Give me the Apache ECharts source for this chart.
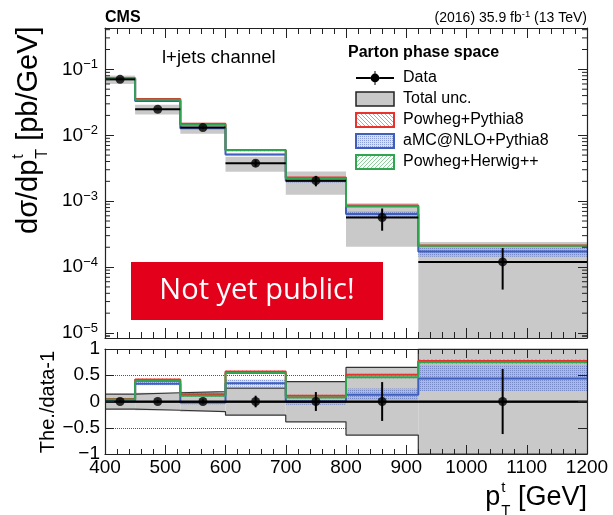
<!DOCTYPE html>
<html><head><meta charset="utf-8">
<script src="https://cdn.jsdelivr.net/npm/echarts@6/dist/echarts.min.js"></script>
<style>html,body{margin:0;padding:0;background:#fff}#c{width:613px;height:515px}</style>
</head><body><div id="c"></div><script>
// ---------------- data ----------------
const binEdges = [400, 450, 525, 600, 700, 800, 920, 1200];
const xTicks = [400, 500, 600, 700, 800, 900, 1000, 1100, 1200];
const mainYDecades = [1e-5, 1e-4, 1e-3, 1e-2, 1e-1];
const ratioTicks = [-1, -0.5, 0, 0.5, 1];
const dataXsec = [0.0705, 0.0248, 0.01306, 0.00377, 0.00205, 0.000566, 0.000120];
const statErr = [0.02, 0.03, 0.04, 0.11, 0.18, 0.37, 0.62];
const totUncUp = [0.14, 0.167, 0.187, 0.253, 0.38, 0.65, 1.0];
const totUncDn = [0.147, 0.167, 0.193, 0.26, 0.387, 0.64, 1.0];
const powhegPythia = [0.0735, 0.0355, 0.0149, 0.0060, 0.00228, 0.00086, 0.000212];
const amcPythia = [0.0712, 0.0332, 0.0128, 0.0051, 0.00205, 0.00064, 0.000173];
const powhegHerwig = [0.0730, 0.0345, 0.0145, 0.0059, 0.00220, 0.00083, 0.000210];
const ratioPowhegPythia = [0.05, 0.42, 0.14, 0.57, 0.11, 0.51, 0.77];
const ratioAmcPythia = [0.01, 0.34, -0.02, 0.35, 0.0, 0.13, 0.44];
const ratioPowhegHerwig = [0.04, 0.39, 0.11, 0.545, 0.075, 0.46, 0.75];
const bandPowhegPythiaLo = [0.03, 0.40, 0.12, 0.55, 0.09, 0.49, 0.74];
const bandPowhegPythiaHi = [0.07, 0.44, 0.16, 0.59, 0.13, 0.53, 0.80];
const bandAmcPythiaLo = [-0.01, 0.31, -0.05, 0.28, -0.06, 0.03, 0.20];
const bandAmcPythiaHi = [0.03, 0.37, 0.01, 0.42, 0.04, 0.25, 0.70];
const bandPowhegHerwigLo = [0.02, 0.37, 0.09, 0.52, 0.055, 0.44, 0.72];
const bandPowhegHerwigHi = [0.06, 0.41, 0.13, 0.57, 0.095, 0.48, 0.80];
const ratioData = [0, 0, 0, 0, 0, 0, 0];

// ---------------- styling / helpers ----------------
const FONT = '"Liberation Sans", Arial, Helvetica, sans-serif';
const RED = '#e8322d', BLUE = '#3f5fbf', GREEN = '#2fa54f', GRAY = '#c9c9c9';
const yMainMin = 8.4e-6, yMainMax = 0.424;
const nBins = dataXsec.length;
const binCenters = binEdges.slice(0, -1).map((e, i) => (e + binEdges[i + 1]) / 2);
const xMin = binEdges[0], xMax = binEdges[nBins];

function makePattern(draw) {
  const c = document.createElement('canvas'); c.width = 8; c.height = 8;
  const g = c.getContext('2d'); draw(g); return { image: c, repeat: 'repeat' };
}
function hatch(color, forward) {
  return makePattern(g => {
    g.strokeStyle = color; g.lineWidth = 1; g.beginPath();
    for (let k = -8; k <= 16; k += 4) {
      if (forward) { g.moveTo(k, 8); g.lineTo(k + 8, 0); } else { g.moveTo(k, 0); g.lineTo(k + 8, 8); }
    }
    g.stroke();
  });
}
const redHatch = hatch('rgba(232,50,45,0.55)', false);
const greenHatch = hatch('rgba(47,165,79,0.55)', true);
const blueDots = makePattern(g => {
  g.fillStyle = 'rgba(120,145,215,0.28)'; g.fillRect(0, 0, 8, 8);
  g.fillStyle = 'rgba(60,90,190,0.5)';
  for (let i = 0; i < 8; i += 2) for (let j = 0; j < 8; j += 2) g.fillRect(i, j, 1, 1);
});

function stepData(vals) {
  const d = vals.map((v, i) => [binEdges[i], v]);
  d.push([binEdges[nBins], vals[nBins - 1]]);
  return d;
}
const clampR = v => Math.max(-1, Math.min(1, v));
const clampM = v => Math.max(yMainMin, Math.min(yMainMax, v));

function rectRender(fill, stroke, lw) {
  return (params, api) => {
    const p0 = api.coord([api.value(0), api.value(3)]);
    const p1 = api.coord([api.value(1), api.value(2)]);
    return { type: 'rect', shape: { x: p0[0], y: p0[1], width: p1[0] - p0[0], height: p1[1] - p0[1] },
      style: { fill: fill, stroke: stroke || null, lineWidth: lw || 0 } };
  };
}
function errRender(params, api) {
  const a = api.coord([api.value(1), api.value(3)]);
  const b = api.coord([api.value(2), api.value(3)]);
  const lo = api.coord([api.value(0), api.value(4)]);
  const hi = api.coord([api.value(0), api.value(5)]);
  const st = { stroke: '#000', lineWidth: 2 };
  return { type: 'group', children: [
    { type: 'line', shape: { x1: a[0], y1: a[1], x2: b[0], y2: b[1] }, style: st },
    { type: 'line', shape: { x1: lo[0], y1: lo[1], x2: hi[0], y2: hi[1] }, style: st }
  ] };
}
const minorVals = [];
mainYDecades.concat([1]).forEach(d => { for (let m = 2; m <= 9; m++) { const v = m * d / 10; if (v > yMainMin && v < yMainMax) minorVals.push(v); } });
for (let m = 9; m >= 2; m--) { const v = m * 1e-6; if (v > yMainMin) minorVals.push(v); }

// ---------------- derived series data ----------------
const mainBand = dataXsec.map((v, i) => [binEdges[i], binEdges[i + 1], clampM(v * (1 - totUncDn[i])), clampM(v * (1 + totUncUp[i]))]);
const ratioBand = dataXsec.map((v, i) => [binEdges[i], binEdges[i + 1], clampR(-totUncDn[i]), clampR(totUncUp[i])]);
const modelBandMain = (lo, hi) => dataXsec.map((v, i) => [binEdges[i], binEdges[i + 1], v * (1 + lo[i]), v * (1 + hi[i])]);
const modelBandRatio = (lo, hi) => lo.map((l, i) => [binEdges[i], binEdges[i + 1], clampR(l), clampR(hi[i])]);
const errMain = dataXsec.map((v, i) => [binCenters[i], binEdges[i], binEdges[i + 1], v, v * (1 - statErr[i]), v * (1 + statErr[i])]);
const errRatio = ratioData.map((v, i) => [binCenters[i], binEdges[i], binEdges[i + 1], v, v - statErr[i], v + statErr[i]]);

// ---------------- axes ----------------
function xAx(grid, pos, labels, major, minor) {
  return { type: 'value', gridIndex: grid, position: pos, min: xTicks[0], max: xTicks[xTicks.length - 1],
    interval: xTicks[1] - xTicks[0], z: 8,
    axisLine: { show: true, onZero: false, lineStyle: { color: '#222', width: 1.2 } },
    axisTick: { show: true, inside: true, length: major, lineStyle: { color: '#222', width: 1 } },
    minorTick: { show: true, splitNumber: 5, length: minor, lineStyle: { color: '#222', width: 1 } },
    splitLine: { show: false },
    axisLabel: { show: labels, fontSize: 19, fontFamily: FONT, color: '#000', margin: 4, formatter: v => String(v) } };
}
const supStyle = { fontSize: 13, fontFamily: FONT, color: '#000', verticalAlign: 'top', lineHeight: 13 };
function yMain(pos, labels) {
  return { type: 'log', logBase: 10, gridIndex: 0, position: pos, min: yMainMin, max: yMainMax, z: 8,
    axisLine: { show: true, onZero: false, lineStyle: { color: '#222', width: 1.2 } },
    axisTick: { show: true, inside: true, length: 9, lineStyle: { color: '#222', width: 1 } },
    splitLine: { show: false },
    axisLabel: { show: labels, margin: 7, showMinLabel: false, showMaxLabel: false,
      formatter: v => {
        const d = mainYDecades.find(t => Math.abs(Math.log10(t) - Math.log10(v)) < 1e-6);
        if (d === undefined) return '';
        return '{b|10}{s|\u2212' + Math.round(-Math.log10(d)) + '}';
      },
      rich: { b: { fontSize: 19, fontFamily: FONT, color: '#000', lineHeight: 23 }, s: supStyle } } };
}
function yRatio(pos, labels) {
  return { type: 'value', gridIndex: 1, position: pos, min: ratioTicks[0], max: ratioTicks[ratioTicks.length - 1],
    interval: ratioTicks[1] - ratioTicks[0], z: 8,
    axisLine: { show: true, onZero: false, lineStyle: { color: '#222', width: 1.2 } },
    axisTick: { show: true, inside: true, length: 9, lineStyle: { color: '#222', width: 1 } },
    splitLine: { show: false },
    axisLabel: { show: labels, margin: 5, fontSize: 19, fontFamily: FONT, color: '#000',
      formatter: v => (v < 0 ? '\u2212' + Math.abs(v) : String(v)) } };
}

// ---------------- series ----------------
const M = { xAxisIndex: 0, yAxisIndex: 0 }, R = { xAxisIndex: 2, yAxisIndex: 2 };
const bandEnc = { x: [0, 1], y: [2, 3] };
function lineSeries(name, vals, color, axes, z, w) {
  return Object.assign({ type: 'line', name: name, data: stepData(vals), step: 'end', symbol: 'none',
    lineStyle: { color: color, width: w || 2 }, itemStyle: { color: color }, z: z, silent: true }, axes);
}
function bandSeries(name, data, fill, axes, z) {
  return Object.assign({ type: 'custom', name: name, data: data, encode: bandEnc, renderItem: rectRender(fill), z: z, silent: true, clip: true }, axes);
}
const series = [
  // main panel
  bandSeries('Total unc.', mainBand, GRAY, M, 2),
  bandSeries('aMC@NLO+Pythia8', modelBandMain(bandAmcPythiaLo, bandAmcPythiaHi), blueDots, M, 3),
  bandSeries('Powheg+Pythia8', modelBandMain(bandPowhegPythiaLo, bandPowhegPythiaHi), redHatch, M, 3),
  bandSeries('Powheg+Herwig++', modelBandMain(bandPowhegHerwigLo, bandPowhegHerwigHi), greenHatch, M, 3),
  lineSeries('Powheg+Pythia8 line', powhegPythia, RED, M, 4),
  lineSeries('aMC@NLO+Pythia8 line', amcPythia, BLUE, M, 4),
  lineSeries('Powheg+Herwig++ line', powhegHerwig, GREEN, M, 4),
  Object.assign({ type: 'custom', name: 'Data', data: errMain, encode: { x: [0, 1, 2], y: [3, 4, 5] }, renderItem: errRender, z: 6, silent: true }, M),
  Object.assign({ type: 'scatter', name: 'Data points', data: binCenters.map((x, i) => [x, dataXsec[i]]), symbol: 'circle', symbolSize: 9, itemStyle: { color: '#000' }, z: 7, silent: true }, M),
  Object.assign({ type: 'custom', name: 'minor ticks', data: minorVals.map(v => [xMin, v]), encode: { x: 0, y: 1 }, z: 9, silent: true,
    renderItem: (params, api) => {
      const l = api.coord([xMin, api.value(1)]), r = api.coord([xMax, api.value(1)]);
      const st = { stroke: '#222', lineWidth: 1 };
      return { type: 'group', children: [
        { type: 'line', shape: { x1: l[0], y1: l[1], x2: l[0] + 5, y2: l[1] }, style: st },
        { type: 'line', shape: { x1: r[0] - 5, y1: r[1], x2: r[0], y2: r[1] }, style: st }] };
    } }, M),
  // ratio panel
  Object.assign({ type: 'line', name: 'ref lines', data: [], z: 1, silent: true,
    markLine: { silent: true, symbol: 'none', z: 1, label: { show: false },
      lineStyle: { type: 'dotted', color: '#555', width: 1 }, data: [{ yAxis: 0.5 }, { yAxis: -0.5 }] } }, R),
  bandSeries('Total unc. ratio', ratioBand, GRAY, R, 2),
  lineSeries('unc up', ratioBand.map(b => b[3]), '#333', R, 3, 1.2),
  lineSeries('unc down', ratioBand.map(b => b[2]), '#333', R, 3, 1.2),
  bandSeries('aMC ratio band', modelBandRatio(bandAmcPythiaLo, bandAmcPythiaHi), blueDots, R, 3),
  bandSeries('PP ratio band', modelBandRatio(bandPowhegPythiaLo, bandPowhegPythiaHi), redHatch, R, 3),
  bandSeries('PH ratio band', modelBandRatio(bandPowhegHerwigLo, bandPowhegHerwigHi), greenHatch, R, 3),
  lineSeries('PP ratio', ratioPowhegPythia, RED, R, 4),
  lineSeries('aMC ratio', ratioAmcPythia, BLUE, R, 4),
  lineSeries('PH ratio', ratioPowhegHerwig, GREEN, R, 4),
  Object.assign({ type: 'line', name: 'zero line', data: [], z: 5, silent: true,
    markLine: { silent: true, symbol: 'none', z: 5, label: { show: false },
      lineStyle: { type: 'solid', color: '#000', width: 1.5 }, data: [{ yAxis: 0 }] } }, R),
  Object.assign({ type: 'custom', name: 'Data ratio', data: errRatio, encode: { x: [0, 1, 2], y: [3, 4, 5] }, renderItem: errRender, z: 6, silent: true, clip: true }, R),
  Object.assign({ type: 'scatter', name: 'Data ratio points', data: binCenters.map((x, i) => [x, ratioData[i]]), symbol: 'circle', symbolSize: 9, itemStyle: { color: '#000' }, z: 7, silent: true }, R)
];

// ---------------- titles (text measured for sub/superscripts) ----------------
const mctx = document.createElement('canvas').getContext('2d');
function tw(text, size, weight) { mctx.font = (weight || '') + ' ' + size + 'px "Liberation Sans"'; return mctx.measureText(text).width; }
function titleChildren(base, rest, TS, SS) {
  const wb = tw(base, TS), ws = Math.max(tw('t', SS), tw('T', SS));
  const tx = { fontFamily: FONT, fill: '#000', verticalAlign: 'middle', align: 'left' };
  return [
    { type: 'text', x: 0, y: 0, style: Object.assign({ text: base, fontSize: TS }, tx) },
    { type: 'text', x: wb + 1, y: -0.37 * TS, style: Object.assign({ text: 't', fontSize: SS }, tx) },
    { type: 'text', x: wb + 1, y: 0.48 * TS, style: Object.assign({ text: 'T', fontSize: SS }, tx) },
    { type: 'text', x: wb + 1 + ws, y: 0, style: Object.assign({ text: rest, fontSize: TS }, tx) }
  ];
}
const xTitleW = tw('p', 27) + 1 + Math.max(tw('t', 15), tw('T', 15)) + tw(' [GeV]', 27);

const graphic = [
  { type: 'text', x: 105, y: 18, style: { text: 'CMS', fontSize: 16, fontWeight: 'bold', fontFamily: FONT, fill: '#000', verticalAlign: 'middle' } },
  { type: 'text', x: 587, y: 18, style: { text: '{a|(2016) 35.9 fb}{s|-1}{a| (13 TeV)}', align: 'right', verticalAlign: 'middle',
      rich: { a: { fontSize: 14, fontFamily: FONT, color: '#000', lineHeight: 18 }, s: { fontSize: 9.5, fontFamily: FONT, color: '#000', verticalAlign: 'top', lineHeight: 10 } } } },
  { type: 'text', x: 162, y: 58, style: { text: 'l+jets channel', fontSize: 18.5, fontFamily: FONT, fill: '#000', verticalAlign: 'middle' } },
  { type: 'text', x: 348, y: 52.5, style: { text: 'Parton phase space', fontSize: 16, fontWeight: 'bold', fontFamily: FONT, fill: '#000', verticalAlign: 'middle' } },
  { type: 'rect', shape: { x: 131, y: 262, width: 252, height: 58 }, style: { fill: '#e3001b' }, z: 100 },
  { type: 'text', x: 257, y: 291, z: 101, style: { text: 'Not yet public!', fontSize: 29, fontFamily: '"Open Sans", "Noto Sans", sans-serif', fill: '#fff', align: 'center', verticalAlign: 'middle' } },
  { type: 'group', x: 29, y: 234, rotation: Math.PI / 2, children: titleChildren('d\u03c3/dp', ' [pb/GeV]', 29, 16) },
  { type: 'group', x: 587 - xTitleW, y: 498, children: titleChildren('p', ' [GeV]', 27, 15) },
  { type: 'text', x: 48, y: 402, rotation: Math.PI / 2, style: { text: 'The./data-1', fontSize: 20, fontFamily: FONT, fill: '#000', align: 'center', verticalAlign: 'middle' } }
];

const legendFont = { fontSize: 16, fontFamily: FONT, color: '#000', padding: [0, 0, 0, 4] };
const dataIcon = 'path://M0,6L14.6,6L14.6,8L0,8Z M23.4,6L38,6L38,8L23.4,8Z M18.5,0L19.5,0L19.5,2.6L18.5,2.6Z M18.5,11.4L19.5,11.4L19.5,14L18.5,14Z M19,2.6A4.4,4.4 0 1,1 19,11.4A4.4,4.4 0 1,1 19,2.6Z';
const option = {
  animation: false,
  backgroundColor: '#fff',
  grid: [
    { left: 105, top: 28, width: 482, height: 310, containLabel: false },
    { left: 105, top: 349, width: 482, height: 105, containLabel: false }
  ],
  xAxis: [xAx(0, 'bottom', false, 10, 6), xAx(0, 'top', false, 10, 6), xAx(1, 'bottom', true, 9, 5), xAx(1, 'top', false, 9, 5)],
  yAxis: [yMain('left', true), yMain('right', false), yRatio('left', true), yRatio('right', false)],
  legend: {
    orient: 'vertical', left: 350, top: 65, itemWidth: 38, itemHeight: 14, itemGap: 5, selectedMode: false,
    textStyle: legendFont,
    data: [
      { name: 'Data', icon: dataIcon, itemStyle: { color: '#000', borderWidth: 0 } },
      { name: 'Total unc.', icon: 'rect', itemStyle: { color: GRAY, borderColor: '#222', borderWidth: 1.5 } },
      { name: 'Powheg+Pythia8', icon: 'rect', itemStyle: { color: redHatch, borderColor: RED, borderWidth: 2 } },
      { name: 'aMC@NLO+Pythia8', icon: 'rect', itemStyle: { color: blueDots, borderColor: BLUE, borderWidth: 2 } },
      { name: 'Powheg+Herwig++', icon: 'rect', itemStyle: { color: greenHatch, borderColor: GREEN, borderWidth: 2 } }
    ]
  },
  graphic: graphic,
  series: series
};
const chart = echarts.init(document.getElementById('c'), null, { renderer: 'canvas' });
chart.setOption(option);
</script></body></html>
